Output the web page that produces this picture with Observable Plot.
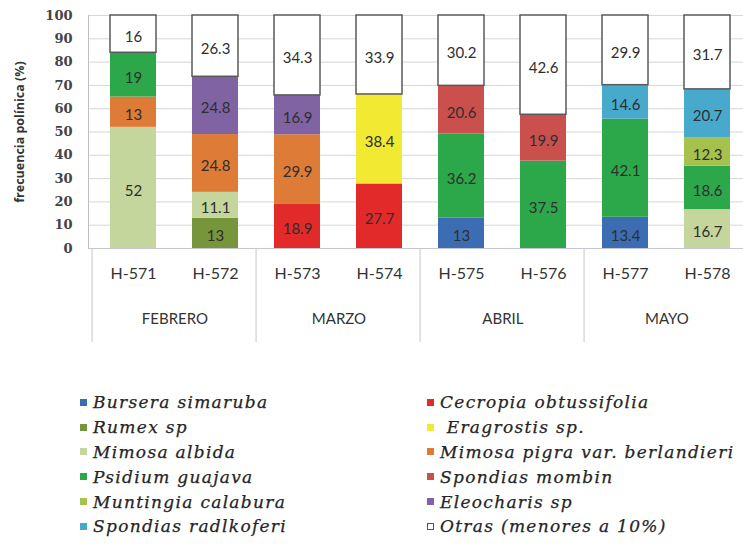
<!DOCTYPE html>
<html>
<head>
<meta charset="utf-8">
<script src="https://cdn.jsdelivr.net/npm/d3@7"></script>
<script src="https://cdn.jsdelivr.net/npm/@observablehq/plot@0.6"></script>
<style>
  body { margin: 0; background: #fff; }
  #wrap { width: 743px; height: 548px; overflow: hidden; position: relative; background: #fff; }
  #legend { position: absolute; left: 80px; top: 390px; display: grid;
    grid-template-columns: 347px 316px; grid-auto-rows: 24.8px;
    font-family: "DejaVu Serif"; font-style: italic; font-size: 17px; color: #252525;
    letter-spacing: 1.3px; -webkit-text-stroke: 0.25px #252525; }
  .item { display: flex; align-items: center; white-space: pre; }
  .sw { width: 7px; height: 7px; margin-right: 6px; flex: none; box-sizing: border-box; }
</style>
</head>
<body>
<div id="wrap"><div id="chart"></div><div id="legend"></div></div>
<script>
// ---- data ----
const samples = ["H-571", "H-572", "H-573", "H-574", "H-575", "H-576", "H-577", "H-578"];
const months = ["FEBRERO", "MARZO", "ABRIL", "MAYO"];
const sampleMonth = ["FEBRERO", "FEBRERO", "MARZO", "MARZO", "ABRIL", "ABRIL", "MAYO", "MAYO"];
const yTicks = [0, 10, 20, 30, 40, 50, 60, 70, 80, 90, 100];
const yLabel = "frecuencia polínica (%)";

// legend / stack order
const taxa = [
  "Bursera simaruba", "Cecropia obtussifolia",
  "Rumex sp", " Eragrostis sp.",
  "Mimosa albida", "Mimosa pigra var. berlandieri",
  "Psidium guajava", "Spondias mombin",
  "Muntingia calabura", "Eleocharis sp",
  "Spondias radlkoferi", "Otras (menores a 10%)"
];
const colors = [
  "#3c6db3", "#e22a2b",
  "#77963c", "#f1e932",
  "#c4d69b", "#de7b36",
  "#2ca84b", "#c9504d",
  "#a6c14c", "#7f63a3",
  "#47aacd", "#ffffff"
];

// values per taxon, one per sample (0 = absent)
const bursera     = [0, 0, 0, 0, 13, 0, 13.4, 0];
const cecropia    = [0, 0, 18.9, 27.7, 0, 0, 0, 0];
const rumex       = [0, 13, 0, 0, 0, 0, 0, 0];
const eragrostis  = [0, 0, 0, 38.4, 0, 0, 0, 0];
const mAlbida     = [52, 11.1, 0, 0, 0, 0, 0, 16.7];
const mPigra      = [13, 24.8, 29.9, 0, 0, 0, 0, 0];
const psidium     = [19, 0, 0, 0, 36.2, 37.5, 42.1, 18.6];
const sMombin     = [0, 0, 0, 0, 20.6, 19.9, 0, 0];
const muntingia   = [0, 0, 0, 0, 0, 0, 0, 12.3];
const eleocharis  = [0, 24.8, 16.9, 0, 0, 0, 0, 0];
const sRadlkoferi = [0, 0, 0, 0, 0, 0, 14.6, 20.7];
const otras       = [16, 26.3, 34.3, 33.9, 30.2, 42.6, 29.9, 31.7];

const series = [bursera, cecropia, rumex, eragrostis, mAlbida, mPigra,
                psidium, sMombin, muntingia, eleocharis, sRadlkoferi, otras];

// ---- build table ----
const rows = [];
taxa.forEach((t, i) => series[i].forEach((v, j) => {
  if (v) rows.push({sample: samples[j], taxon: t, value: v});
}));
const OTHER = taxa[taxa.length - 1];
const monthRows = months.map(m => ({month: m, first: samples[sampleMonth.indexOf(m)]}));

// ---- layout ----
const W = 743, H = 350, ML = 88, MR = -8, MT = 15, MB = H - 248;
const padIn = 0.445, padOut = padIn / 2;
const step = (W - MR - ML) / samples.length;
const frameH = H - MT - MB;

const chart = Plot.plot({
  width: W, height: H,
  marginLeft: ML, marginRight: MR, marginTop: MT, marginBottom: MB,
  x: {domain: samples, paddingInner: padIn, paddingOuter: padOut, axis: null},
  y: {domain: [0, 100]},
  color: {domain: taxa, range: colors},
  opacity: {domain: [0, 1], range: [0, 1]},
  style: {fontFamily: "Lato", background: "white"},
  marks: [
    Plot.gridY(yTicks, {stroke: "#d6d6d6", strokeOpacity: 1}),
    Plot.ruleY([0], {stroke: "#c3c8ce"}),
    Plot.frame({anchor: "left", stroke: "#c0c0c0"}),
    Plot.axisY(yTicks, {tickSize: 0, tickPadding: 16, fontFamily: "DejaVu Serif", fontSize: 13,
      fontWeight: "bold", fill: "#444", label: null}),
    Plot.barY(rows, Plot.stackY({
      x: "sample", y: "value", z: "taxon", order: taxa, fill: "taxon",
      stroke: "#5a5a5a", strokeWidth: 1.5,
      strokeOpacity: d => d.taxon === OTHER ? 1 : 0
    })),
    Plot.text(rows, Plot.stackY({
      x: "sample", y: "value", z: "taxon", order: taxa, text: d => String(d.value),
      dy: 3, fontSize: 15, fill: "#2e2e2e"
    })),
    Plot.ruleX(monthRows, {x: "first", dx: -step / 2, insetTop: frameH, insetBottom: -94, stroke: "#c6c6c6"}),
    Plot.text(samples, {x: d => d, frameAnchor: "bottom", dy: 30, fontSize: 16, fill: "#333"}),
    Plot.text(monthRows, {x: "first", text: "month", frameAnchor: "bottom", dx: step / 2, dy: 75,
      fontSize: 15, fill: "#333"}),
    Plot.text([yLabel], {frameAnchor: "left", textAnchor: "middle", dx: -69, rotate: -90,
      fontFamily: "Open Sans", fontWeight: "bold", fontSize: 12.5, fill: "#333"})
  ]
});
document.getElementById("chart").appendChild(chart);

// ---- legend ----
const legend = document.getElementById("legend");
taxa.forEach((t, i) => {
  const item = document.createElement("div");
  item.className = "item";
  const sw = document.createElement("span");
  sw.className = "sw";
  sw.style.background = colors[i];
  if (t === OTHER) sw.style.border = "1px solid #555";
  item.appendChild(sw);
  const lab = document.createElement("span");
  lab.textContent = t;
  item.appendChild(lab);
  legend.appendChild(item);
});
</script>
</body>
</html>
